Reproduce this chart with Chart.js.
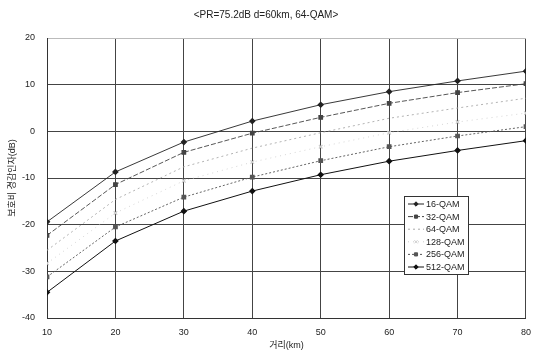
<!DOCTYPE html>
<html>
<head>
<meta charset="utf-8">
<script src="https://cdn.jsdelivr.net/npm/chart.js@4/dist/chart.umd.min.js"></script>
<style>
  html, body { margin: 0; background: #fff; }
  #wrap { width: 540px; height: 352px; position: relative; }
</style>
</head>
<body>
<div id="wrap"><canvas id="chart"></canvas></div>
<script>
"use strict";

// data
const distances = [10, 20, 30, 40, 50, 60, 70, 80];
const qam16  = [-19.4, -8.7, -2.3, 2.2, 5.7, 8.5, 10.8, 12.9];
const qam32  = [-22.3, -11.4, -4.5, -0.4, 3.0, 6.0, 8.3, 10.2];
const qam64  = [-25.5, -14.6, -7.6, -3.6, -0.3, 2.8, 5.0, 7.1];
const qam128 = [-28.3, -17.5, -10.6, -6.6, -3.3, -0.3, 2.0, 3.9];
const qam256 = [-31.2, -20.5, -14.1, -9.8, -6.3, -3.3, -1.0, 1.0];
const qam512 = [-34.5, -23.5, -17.1, -12.8, -9.3, -6.4, -4.1, -2.0];
const seriesNames = ["16-QAM", "32-QAM", "64-QAM", "128-QAM", "256-QAM", "512-QAM"];
const chartTitle = "<PR=75.2dB d=60km, 64-QAM>";
const xTitle = "거리(km)";
const yTitle = "보호비 경감인자(dB)";

const FONT = "'Liberation Sans', 'Noto Sans CJK KR', sans-serif";

function series(label, values, color, dash, point, width) {
    return {
        label: label,
        data: distances.map((d, i) => ({ x: d, y: values[i] })),
        borderColor: color,
        backgroundColor: color,
        borderWidth: width,
        borderDash: dash,
        pointStyle: point,
        pointRadius: point ? 2.5 : 0,
        pointBorderWidth: 1.2,
        tension: 0,
    };
}

const datasets = [
    series(seriesNames[0], qam16, "#222", [], "rectRot", 0.9),
    series(seriesNames[1], qam32, "#444", [5, 2], "rect", 0.9),
    series(seriesNames[2], qam64, "#aaa", [2, 3], false, 0.9),
    series(seriesNames[3], qam128, "#ccc", [1, 4], "crossRot", 0.8),
    series(seriesNames[4], qam256, "#555", [2, 2], "rect", 0.9),
    series(seriesNames[5], qam512, "#111", [], "rectRot", 1),
];

// title text and the boxed legend inside the plot
const decorations = {
    id: "decorations",
    afterDraw(chart) {
        const ctx = chart.ctx;
        ctx.save();
        ctx.fillStyle = "#222";
        ctx.font = "10px " + FONT;
        ctx.textAlign = "center";
        ctx.textBaseline = "middle";
        ctx.fillText(chartTitle, 266, 15);

        const bx = 404, by = 196, bw = 64, bh = 78;
        ctx.fillStyle = "#fff";
        ctx.fillRect(bx, by, bw, bh);
        ctx.strokeStyle = "#333";
        ctx.lineWidth = 1;
        ctx.setLineDash([]);
        ctx.strokeRect(bx + 0.5, by + 0.5, bw, bh);

        ctx.font = "9px " + FONT;
        ctx.textAlign = "left";
        chart.data.datasets.forEach((ds, i) => {
            const y = by + 8 + i * 12.6;
            ctx.strokeStyle = ds.borderColor;
            ctx.lineWidth = 1;
            ctx.setLineDash(ds.borderDash);
            ctx.beginPath();
            ctx.moveTo(bx + 4, y);
            ctx.lineTo(bx + 20, y);
            ctx.stroke();
            ctx.setLineDash([]);
            if (ds.pointStyle) {
                Chart.helpers.drawPoint(ctx, {
                    pointStyle: ds.pointStyle, radius: 2.2, rotation: 0, borderWidth: 1
                }, bx + 12, y);
                ctx.fillStyle = ds.borderColor;
                ctx.fill();
            }
            ctx.fillStyle = "#222";
            ctx.fillText(ds.label, bx + 22, y + 0.5);
        });
        ctx.restore();
    },
};

const chart = new Chart(document.getElementById("chart"), {
    type: "line",
    data: { datasets: datasets },
    options: {
        responsive: true,
        maintainAspectRatio: false,
        animation: false,
        layout: { padding: { top: 38, right: 11, left: 0, bottom: 0 } },
        plugins: {
            legend: { display: false },
            title: { display: false },
            tooltip: { enabled: false },
        },
        scales: {
            x: {
                type: "linear",
                min: 10,
                max: 80,
                ticks: {
                    stepSize: 10,
                    color: "#222",
                    padding: 9,
                    font: { family: FONT, size: 9 },
                },
                grid: { color: "#444", lineWidth: 1, drawTicks: false },
                border: { color: "#333" },
                title: {
                    display: true,
                    text: xTitle,
                    color: "#222",
                    font: { family: FONT, size: 9 },
                    padding: { top: 1, bottom: 1 },
                },
                afterFit(scale) { scale.height = 34; },
            },
            y: {
                min: -40,
                max: 20,
                ticks: {
                    stepSize: 10,
                    color: "#222",
                    padding: 12,
                    font: { family: FONT, size: 9 },
                },
                grid: {
                    color: (c) => (c.tick && c.tick.value === 20 ? "#bbb" : "#444"),
                    lineWidth: 1,
                    drawTicks: false,
                },
                border: { color: "#333" },
                title: {
                    display: true,
                    text: yTitle,
                    color: "#222",
                    font: { family: FONT, size: 9 },
                    padding: { top: 7, bottom: 0 },
                },
                afterFit(scale) { scale.width = 47; },
            },
        },
    },
    plugins: [decorations],
});
</script>
</body>
</html>
